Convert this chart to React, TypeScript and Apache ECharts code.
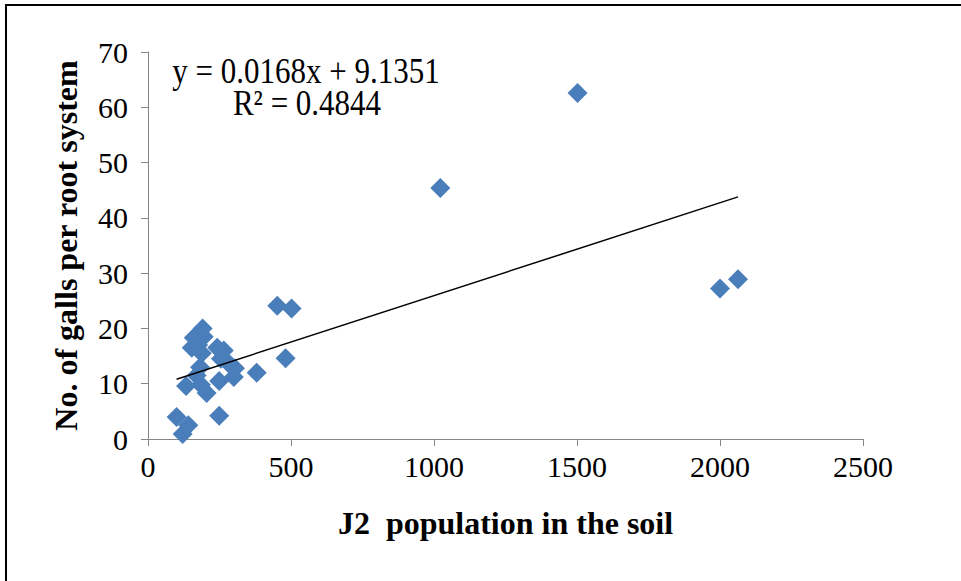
import React, { useEffect, useRef } from "react";
import * as echarts from "echarts";

const xValues = [100, 121, 141, 133, 153, 160, 175, 191, 182, 188, 185, 205, 242, 265, 255, 285, 304, 300, 249, 380, 481, 452, 502, 249, 1022, 1502, 2000, 2063, 170, 195];
const yValues = [4.0, 0.9, 2.5, 9.6, 16.5, 18.3, 17.0, 20.0, 13.0, 15.5, 9.8, 8.3, 16.5, 16.0, 14.5, 13.5, 12.8, 11.2, 10.5, 12.0, 14.6, 24.1, 23.6, 4.2, 45.4, 62.6, 27.2, 28.9, 11.5, 18.5];
const slope = 0.0168;
const intercept = 9.1351;
const equationText = "y = 0.0168x + 9.1351";
const r2Text = "R² = 0.4844";
const xName = "J2  population in the soil";
const yName = "No. of galls per root system";

export default function App() {
  const ref = useRef<HTMLDivElement>(null);
  useEffect(() => {
    if (!ref.current) return;
    const chart = echarts.init(ref.current, undefined, { renderer: "svg" });
    const points = xValues.map((x, i) => [x, yValues[i]]);
    const xmin = Math.min(...xValues);
    const xmax = Math.max(...xValues);
    const font = "'Liberation Serif', 'Times New Roman', serif";
    chart.setOption({
      animation: false,
      backgroundColor: "#ffffff",
      grid: { left: 148, top: 52, right: 98, bottom: 142 },
      xAxis: {
        type: "value",
        min: 0,
        max: 2500,
        interval: 500,
        name: xName,
        nameLocation: "middle",
        nameGap: 68,
        nameTextStyle: { fontFamily: font, fontSize: 32, fontWeight: "bold", color: "#000" },
        axisLine: { show: true, lineStyle: { color: "#868686", width: 1 } },
        axisTick: { show: true, length: 7, lineStyle: { color: "#868686" } },
        axisLabel: { fontFamily: font, fontSize: 30, color: "#000", margin: 12, formatter: (v: number) => String(v) },
        splitLine: { show: false },
      },
      yAxis: {
        type: "value",
        min: 0,
        max: 70,
        interval: 10,
        name: yName,
        nameLocation: "middle",
        nameGap: 66,
        nameTextStyle: { fontFamily: font, fontSize: 32, fontWeight: "bold", color: "#000" },
        axisLine: { show: true, lineStyle: { color: "#868686", width: 1 } },
        axisTick: { show: true, length: 7, lineStyle: { color: "#868686" } },
        axisLabel: { fontFamily: font, fontSize: 30, color: "#000", margin: 20, formatter: (v: number) => String(v) },
        splitLine: { show: false },
      },
      series: [
        {
          type: "scatter",
          data: points,
          symbol: "diamond",
          symbolSize: 20,
          itemStyle: { color: "#4a7ebb", opacity: 1 },
          z: 2,
        },
        {
          type: "line",
          data: [
            [xmin, slope * xmin + intercept],
            [xmax, slope * xmax + intercept],
          ],
          symbol: "none",
          lineStyle: { color: "#000", width: 1.5 },
          z: 3,
        },
      ],
      graphic: [
        {
          type: "rect",
          shape: { x: 6, y: 5, width: 1100, height: 1000 },
          style: { fill: "none", stroke: "#000", lineWidth: 2 },
          silent: true,
        },
        {
          type: "text",
          x: 306,
          y: 71,
          scaleY: 1.15,
          style: { text: equationText, font: `31px ${font}`, fill: "#000", align: "center", verticalAlign: "middle" },
        },
        {
          type: "text",
          x: 307,
          y: 103,
          scaleY: 1.15,
          style: { text: r2Text, font: `31px ${font}`, fill: "#000", align: "center", verticalAlign: "middle" },
        },
      ],
    });
    return () => chart.dispose();
  }, []);
  return (
    <div
      ref={ref}
      style={{ position: "fixed", left: 0, top: 0, width: 961, height: 581 }}
    />
  );
}
